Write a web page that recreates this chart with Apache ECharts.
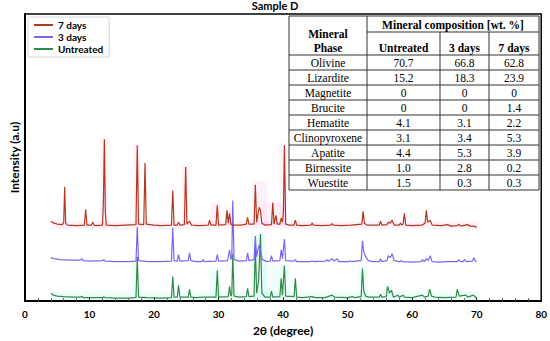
<!DOCTYPE html>
<html>
<head>
<meta charset="utf-8">
<script src="https://cdn.jsdelivr.net/npm/echarts@6/dist/echarts.min.js"></script>
<style>html,body{margin:0;padding:0;background:#fff}#c{width:550px;height:341px}</style>
</head>
<body>
<div id="c"></div>
<script>
// ---- XRD data (2θ, intensity a.u., stacked) ----
const seriesNames = ['7 days', '3 days', 'Untreated'];
const days7 = [[4,81],[4.5,79],[5,78],[5.8,77.5],[6.0,80],[6.15,116],[6.3,79],[6.6,77],[8,76.5],[9.2,77],[9.4,93],[9.6,77],[10.3,77],[10.5,80],[10.7,77],[11,76.5],[12.0,77],[12.15,100],[12.3,164],[12.45,90],[12.6,77],[14,76.5],[15.5,77],[17.2,77.5],[17.4,158],[17.6,78],[18.4,77.5],[18.6,140],[18.8,78],[20,77],[21,76.5],[22.7,77],[22.9,112],[23.1,77],[23.6,77],[23.8,80],[24,77],[24.7,77.5],[24.9,136],[25.1,78],[25.5,81],[25.8,77],[27,76.5],[28.4,77],[28.6,82],[28.8,77],[29.6,77],[29.8,97],[30,77],[31.1,77.5],[31.3,92],[31.5,79],[31.7,89],[31.9,78],[32.2,77],[33.5,77],[34.3,78],[34.5,85],[34.7,78],[35.5,78],[35.7,118],[35.9,80],[36.1,88],[36.3,95],[36.5,92],[36.7,79],[37.2,77],[38.2,77.5],[38.4,100],[38.6,78],[38.9,87],[39.1,78],[39.5,78],[39.7,84],[39.9,80],[40.05,90],[40.2,158],[40.4,78],[41,77],[41.7,77],[41.9,82],[42.1,77],[43,76.5],[44.3,77],[44.5,79],[44.7,77],[46,76.5],[47.4,77],[47.6,78.5],[47.8,77],[49,76.5],[50.5,77],[52.2,78],[52.4,91],[52.6,79],[53,77],[54.9,77],[55.1,81],[55.3,77],[56.1,77.5],[56.3,80],[56.6,79],[56.9,82],[57.2,77],[58,77],[58.2,79],[58.4,77],[58.6,78],[58.8,89],[59,77],[60,76.5],[61.5,77],[62.0,79],[62.2,92],[62.4,80],[62.8,82],[63.1,77],[64.5,76.5],[65.5,77.5],[66,76],[67,76.5],[67.2,78],[67.5,76],[68.6,77.5],[69,76],[69.5,76],[70,75]];
const days3 = [[4,44],[4.5,43],[5.5,42],[7,41.5],[8.6,41.5],[8.8,43],[9,41],[10,40.5],[12,41],[12.2,42],[12.4,40.5],[14,40],[16,40],[17.2,40.5],[17.4,75],[17.6,41],[19,40],[21,40],[22.7,40.5],[22.9,74],[23.1,41],[23.6,40.5],[23.8,47],[24,40.5],[25.3,41],[25.5,49],[25.7,41],[26.5,40],[27.4,40],[27.6,42],[27.8,40],[29.6,40.5],[29.8,47],[30,40.5],[31.4,41],[31.7,52],[31.9,42],[32.05,45],[32.2,102],[32.4,42],[33.2,40.5],[34.3,41],[34.5,49],[34.7,41],[35.5,42],[35.7,66],[35.9,45],[36.1,52],[36.3,57],[36.5,50],[36.8,42],[37.5,40],[38,40.5],[38.2,46],[38.4,40.5],[39.5,41],[39.7,52],[39.9,43],[40.2,63],[40.4,41],[41.7,40.5],[41.9,42],[42.1,40],[44.3,40],[44.5,41],[44.7,40],[46.6,40.5],[46.8,42],[47,40.5],[47.6,43],[47.9,40.5],[48.4,43],[48.6,40],[50.2,40],[50.4,41],[50.6,40],[52.1,41],[52.3,61],[52.5,50],[52.8,45],[53.2,41],[54,40],[54.9,40],[55.1,43],[55.3,40],[56.1,41],[56.3,46],[56.6,44],[56.9,48],[57.2,41],[58,40],[58.2,41],[58.5,40],[60,39.5],[61.4,40],[61.6,42],[61.9,40],[62.2,43],[62.5,41],[62.8,46],[63.1,40],[64,39.5],[65.5,40],[67,40],[67.2,42],[67.5,40],[67.9,40],[68.1,42],[68.4,40],[69.3,40.5],[69.6,44],[69.8,40.5],[70,40]];
const untreated = [[4,8],[4.4,6],[5,5],[6,4.5],[7.5,4],[8.6,4],[8.8,5],[9,3.5],[10,3.5],[12,3.5],[12.2,4.5],[12.4,3.5],[14,3],[16,3],[17.2,3.5],[17.4,45],[17.6,4],[19,3.5],[21,3],[22.7,3.5],[22.9,25],[23.1,4],[23.6,4],[23.8,16],[24,4],[25.3,4],[25.5,12],[25.7,4],[26.5,3.5],[27.6,4],[29.6,4],[29.8,31],[30,4],[31.5,4.5],[31.7,15],[31.9,5],[32.05,7],[32.2,48],[32.4,5],[33.2,4],[34.3,4.5],[34.5,13],[34.7,4.5],[35.5,5],[35.7,56],[35.9,8],[36.2,20],[36.5,68],[36.7,8],[37.2,4],[38,4],[38.2,10],[38.4,4],[39.5,4.5],[39.7,23],[39.9,6],[40.2,36],[40.4,5],[41.7,4.5],[41.9,23],[42.1,4],[43,3.5],[44.5,4.5],[45,3.5],[46.5,3.5],[47.6,6],[48,4],[50,3.5],[50.8,4.5],[51,3.5],[52.1,4.5],[52.3,33],[52.5,10],[52.8,5],[53.3,4],[54.9,4],[55.1,7],[55.3,4],[56.0,4.5],[56.2,15],[56.5,8],[56.8,11],[57.1,4],[57.8,6],[58,4],[58.6,6],[58.8,4],[60,3.5],[61.6,6],[61.9,4],[62.5,5],[62.7,12],[63,5],[63.5,4],[65,3.5],[66.8,4],[67.0,12],[67.3,5],[68.3,6],[68.6,4],[69.5,6],[69.8,4],[70,3.5]];

// highlighted regions [x0, x1, y0, y1]
const pinkBands = [[4,70.3,73,81],[11.7,12.8,77,165],[16.8,17.8,77,160],[24.3,25.3,77,138],[28.8,30.3,77,100],[31,32.3,77,95],[35.2,37.5,77,122],[36.8,40.3,77,100],[39.5,40.6,77,160]];
const cyanBands = [[4,70.3,1,10],[16.5,17.5,3,45],[28.6,30.3,3,33],[35,37.5,3,68],[36.8,41,3,37],[51.7,53.2,3,35],[55.7,57.1,3,17]];

// ---- Table data ----
const tableTitle = 'Mineral composition [wt. %]';
const colHeads = ['Untreated', '3 days', '7 days'];
const phases = ['Olivine','Lizardite','Magnetite','Brucite','Hematite','Clinopyroxene','Apatite','Birnessite','Wuestite'];
const wtUntreated = [70.7,15.2,0,0,4.1,3.1,4.4,1.0,1.5];
const wt3days = [66.8,18.3,0,0,3.1,3.4,5.3,2.8,0.3];
const wt7days = [62.8,23.9,0,1.4,2.2,5.3,3.9,0.2,0.3];

const xTicksMin = 0, xTicksMax = 80, xTickStep = 10;

const colors = {'7 days':'#b5371f','3 days':'#7d66ee','Untreated':'#2f8a4a'};
const FONT = 'Lato';
const SERIF = 'Liberation Serif';

const fmt = v => v === 0 ? '0' : v.toFixed(1);

function bandsToMark(b, color) {
  return { silent: true, itemStyle: { color: color }, data: b.map(r => [{ xAxis: r[0], yAxis: r[2] }, { xAxis: r[1], yAxis: r[3] }]) };
}

// Table graphic
function buildTable() {
  const cx = [289, 367, 440, 489, 539];
  const top = 16, subTop = 32, headBot = 55, rowH = 15;
  const bottom = headBot + rowH * phases.length;
  const ls = { stroke: '#333', lineWidth: 1 };
  const ch = [];
  ch.push({ type: 'rect', shape: { x: cx[0], y: top, width: cx[4] - cx[0], height: bottom - top }, style: { fill: '#fff', stroke: '#333', lineWidth: 1 } });
  const line = (x1, y1, x2, y2) => ch.push({ type: 'line', shape: { x1, y1, x2, y2 }, style: ls });
  line(cx[1], top, cx[1], bottom);
  line(cx[2], subTop, cx[2], bottom);
  line(cx[3], subTop, cx[3], bottom);
  line(cx[1], subTop, cx[4], subTop);
  for (let i = 0; i < phases.length; i++) line(cx[0], headBot + i * rowH, cx[4], headBot + i * rowH);
  const txt = (s, x, y, bold) => ch.push({ type: 'text', x, y, style: { text: s, fill: '#000', font: (bold ? 'bold ' : '') + '11.5px "' + SERIF + '"', align: 'center', verticalAlign: 'middle' } });
  txt(tableTitle, (cx[1] + cx[4]) / 2, 24.5, true);
  txt('Mineral', (cx[0] + cx[1]) / 2, 34, true);
  txt('Phase', (cx[0] + cx[1]) / 2, 48, true);
  colHeads.forEach((h, j) => txt(h, (cx[j + 1] + cx[j + 2]) / 2, 48, true));
  const cols = [wtUntreated, wt3days, wt7days];
  phases.forEach((p, i) => {
    const y = headBot + i * rowH + rowH / 2 + 0.5;
    txt(p, (cx[0] + cx[1]) / 2, y, false);
    cols.forEach((c, j) => txt(fmt(c[i]), (cx[j + 1] + cx[j + 2]) / 2, y, false));
  });
  return { type: 'group', x: 0, y: 0, z: 100, children: ch };
}

const chart = echarts.init(document.getElementById('c'), null, { renderer: 'svg' });
chart.setOption({
  animation: false,
  backgroundColor: '#fff',
  title: { text: 'Sample D', left: 'center', top: 0, padding: 0, textStyle: { fontFamily: FONT, fontSize: 11, fontWeight: 'bold', color: '#000' } },
  legend: {
    data: seriesNames, orient: 'vertical', left: 28, top: 17, padding: [3, 6, 3, 6],
    itemWidth: 19, itemHeight: 2, itemGap: 2, icon: 'rect',
    borderColor: '#d8d8d8', borderWidth: 1,
    textStyle: { fontFamily: FONT, fontSize: 10, fontWeight: 'bold', color: '#000' }
  },
  grid: { left: 21, right: 8, top: 14, bottom: 36, show: true, borderColor: '#000', borderWidth: 1.5 },
  xAxis: {
    type: 'value', min: xTicksMin, max: xTicksMax, interval: xTickStep,
    name: '2θ (degree)', nameLocation: 'middle', nameGap: 19,
    nameTextStyle: { fontFamily: FONT, fontSize: 12, fontWeight: 'bold', color: '#000' },
    axisLine: { lineStyle: { color: '#000', width: 2 } },
    axisTick: { inside: true, length: 4, lineStyle: { color: '#000' } },
    minorTick: { show: true, splitNumber: 5, length: 3, lineStyle: { color: '#555' } },
    axisLabel: { fontFamily: FONT, fontSize: 10, fontWeight: 'bold', color: '#000', margin: 8 },
    splitLine: { show: false }
  },
  yAxis: {
    type: 'value', min: 0, max: 291,
    name: 'Intensity (a.u)', nameLocation: 'middle', nameGap: 5,
    nameTextStyle: { fontFamily: FONT, fontSize: 12, fontWeight: 'bold', color: '#000' },
    axisLine: { show: true, lineStyle: { color: '#000', width: 2 } },
    axisTick: { show: false }, axisLabel: { show: false }, splitLine: { show: false }
  },
  series: [
    { name: 'Untreated', type: 'line', data: untreated, symbol: 'none', color: colors['Untreated'], lineStyle: { width: 1.2 }, markArea: bandsToMark(cyanBands, 'rgba(120,235,225,0.12)') },
    { name: '3 days', type: 'line', data: days3, symbol: 'none', color: colors['3 days'], lineStyle: { width: 1.2 } },
    { name: '7 days', type: 'line', data: days7, symbol: 'none', color: colors['7 days'], lineStyle: { width: 1.2 }, markArea: bandsToMark(pinkBands, 'rgba(255,150,210,0.13)') }
  ],
  graphic: [buildTable()]
});
</script>
</body>
</html>
